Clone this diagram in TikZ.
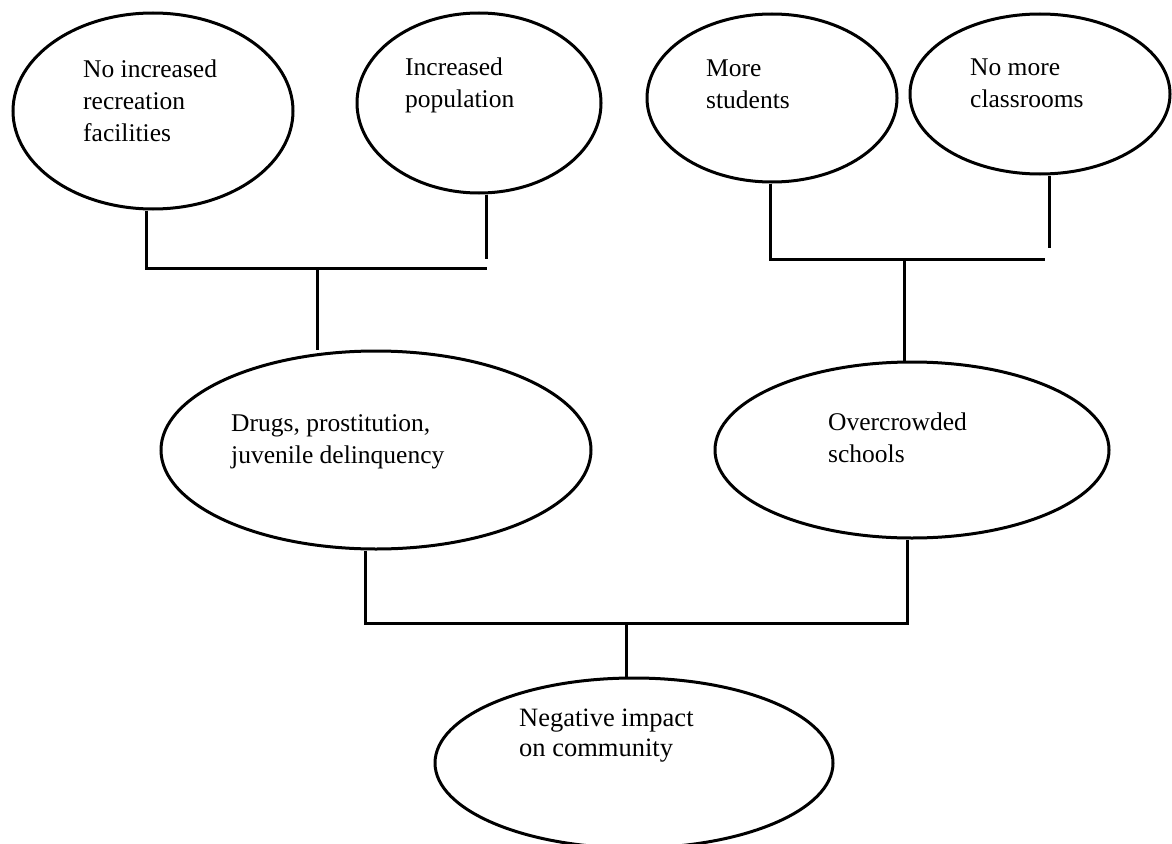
\documentclass[tikz,border=0pt]{standalone}
\usepackage{fontspec}
\setmainfont{Liberation Serif}
\usetikzlibrary{shapes.geometric}
\tikzset{
  oval/.style={draw=black, line width=3pt, shape=ellipse, inner sep=0pt},
  lbl/.style={anchor=north west, inner sep=0pt, align=left, font=\fontsize{25.5}{32}\selectfont},
  conn/.style={draw=black, line width=3pt}
}
\begin{document}
\begin{tikzpicture}[x=1pt,y=-1pt]
\useasboundingbox (0,0) rectangle (1172,843);
% ellipses
\node[oval, minimum width=280pt, minimum height=196pt] (e1) at (153,111) {};
\node[oval, minimum width=244pt, minimum height=180pt] (e2) at (479,103) {};
\node[oval, minimum width=250pt, minimum height=168pt] (e3) at (772,98) {};
\node[oval, minimum width=260pt, minimum height=160pt] (e4) at (1040,94) {};
\node[oval, minimum width=430pt, minimum height=198pt] (e5) at (376,450) {};
\node[oval, minimum width=394pt, minimum height=176pt] (e6) at (912,450) {};
\node[oval, minimum width=398pt, minimum height=170pt] (e7) at (634,763) {};
% texts
\node[lbl] (t1) at (83,60) {No increased\\recreation\\facilities};
\node[lbl] (t2) at (405,58) {Increased\\population};
\node[lbl] (t3) at (706,60) {More\\students};
\node[lbl] (t4) at (970,59) {No more\\classrooms};
\node[lbl] (t5) at (231,414) {Drugs, prostitution,\\juvenile delinquency};
\node[lbl] (t6) at (828,413) {Overcrowded\\schools};
\node[lbl, font=\fontsize{26.5}{30}\selectfont] (t7) at (519,709) {Negative impact\\on community};
% junction coordinates
\coordinate (a1) at (146,268);
\coordinate (a2) at (487,268);
\coordinate (a3) at (317,268);
\coordinate (b2) at (486,259);
\coordinate (c1) at (770,259);
\coordinate (c2) at (1045,259);
\coordinate (c3) at (904,259);
\coordinate (d2) at (1049,248);
\coordinate (f1) at (365,623);
\coordinate (f2) at (907,623);
\coordinate (f3) at (626,623);
% connectors
\draw[conn] (e1.south -| a1) -- (a1) -- (a2);
\draw[conn] (e2.south -| b2) -- (b2);
\draw[conn] (a3) -- (e5.north -| a3);
\draw[conn] (e3.south -| c1) -- (c1) -- (c2);
\draw[conn] (e4.south -| d2) -- (d2);
\draw[conn] (c3) -- (e6.north -| c3);
\draw[conn] (e5.south -| f1) -- (f1) -- (f2) -- (e6.south -| f2);
\draw[conn] (f3) -- (e7.north -| f3);
\end{tikzpicture}
\end{document}
